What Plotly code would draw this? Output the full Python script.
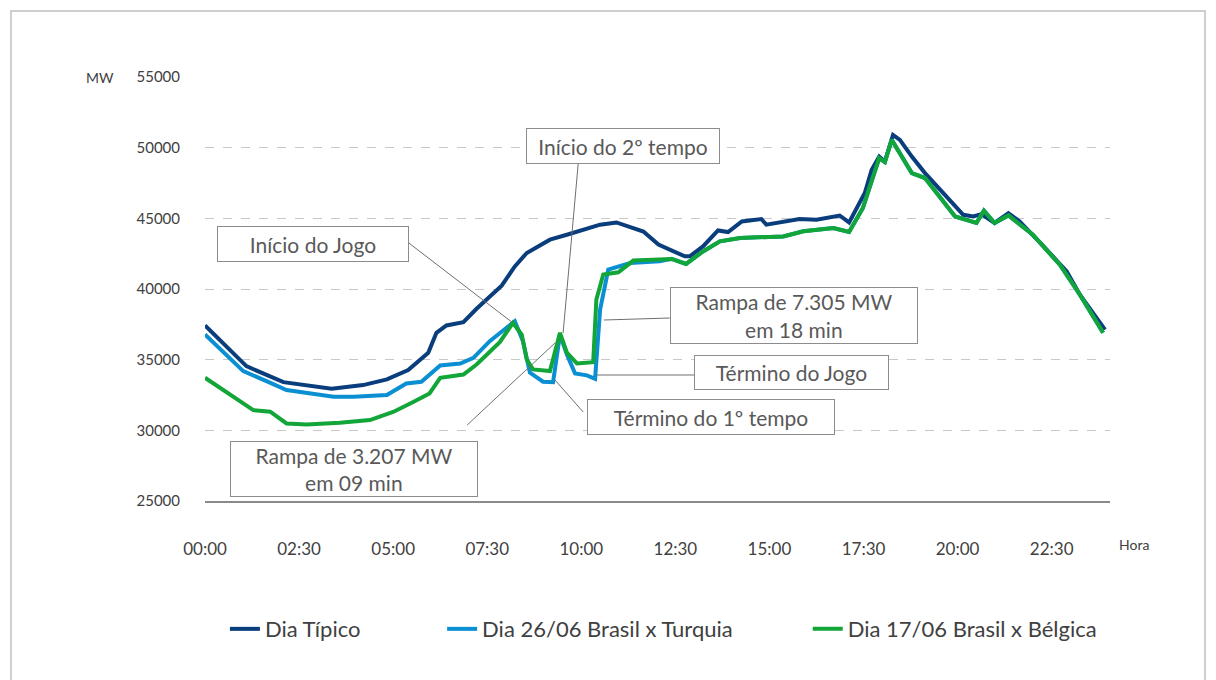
import plotly.graph_objects as go

# ---- data (time in minutes since 00:00, load in MW) ----
typ_t = [0, 66, 125, 202, 252, 290, 324, 356, 369, 385, 412, 433, 473, 494, 513, 550, 577, 630, 656, 699,
         723, 765, 773, 794, 818, 834, 856, 887, 895, 948, 975, 1012, 1027, 1044, 1052, 1063, 1075, 1084,
         1097, 1108, 1127, 1148, 1188, 1209, 1225, 1238, 1259, 1281, 1299, 1320, 1342, 1374, 1395, 1435]
typ_mw = [37420, 34540, 33410, 32950, 33200, 33600, 34260, 35490, 36900, 37420, 37650, 38600, 40240, 41600,
          42550, 43490, 43840, 44550, 44710, 44070, 43140, 42310, 42310, 43015, 44145, 44030, 44780, 44950,
          44550, 44950, 44900, 45200, 44710, 46190, 46790, 48430, 49370, 49020, 50900, 50550, 49370, 48200,
          46310, 45250, 45130, 45300, 44670, 45370, 44780, 43840, 42780, 41250, 39600, 37130]

tur_t = [0, 61, 98, 130, 205, 237, 290, 321, 345, 375, 407, 428, 454, 494, 507, 518, 539, 555, 566, 577,
         590, 609, 622, 630, 643, 678, 725, 744, 767, 794, 821, 853, 922, 954, 1002, 1027, 1049, 1063,
         1075, 1084, 1095, 1127, 1148, 1196, 1230, 1242, 1259, 1281, 1320, 1363, 1395, 1432]
tur_mw = [36780, 34190, 33480, 32850, 32380, 32380, 32500, 33320, 33440, 34590, 34730, 35130, 36310, 37720,
          36310, 34080, 33440, 33410, 36780, 35370, 34030, 33890, 33650, 38540, 41370, 41840, 41970, 42130,
          41770, 42660, 43370, 43610, 43720, 44080, 44315, 44030, 45730, 47610, 49260, 48980, 50550, 48200,
          47850, 45130, 44670, 45540, 44670, 45200, 43840, 41720, 39600, 36900]

bel_t = [0, 35, 61, 77, 104, 130, 162, 215, 263, 300, 332, 358, 375, 412, 433, 470, 491, 505, 513, 523,
         550, 566, 577, 593, 619, 624, 635, 659, 683, 744, 767, 794, 821, 853, 922, 954, 1002, 1027, 1049,
         1063, 1075, 1084, 1095, 1127, 1148, 1196, 1230, 1242, 1259, 1281, 1320, 1363, 1395, 1432]
bel_mw = [33720, 32660, 31840, 31430, 31320, 30490, 30420, 30540, 30730, 31300, 32000, 32610, 33720, 33950,
          34660, 36240, 37600, 36780, 35010, 34310, 34190, 36900, 35490, 34730, 34820, 39250, 41020, 41180,
          42010, 42130, 41770, 42660, 43370, 43610, 43720, 44080, 44315, 44030, 45730, 47610, 49260, 48980,
          50550, 48200, 47850, 45130, 44670, 45540, 44670, 45200, 43840, 41720, 39600, 36900]

series_names = ["Dia Típico", "Dia 26/06 Brasil x Turquia", "Dia 17/06 Brasil x Bélgica"]
series_colors = ["#0a3d7c", "#0a8fd2", "#12a538"]

tick_vals = [0, 150, 300, 450, 600, 750, 900, 1050, 1200, 1350]
tick_text = ["00:00", "02:30", "05:00", "07:30", "10:00", "12:30", "15:00", "17:30", "20:00", "22:30"]
y_ticks = [25000, 30000, 35000, 40000, 45000, 50000, 55000]

# annotation boxes: text, centre (min, MW), size px, leader line (box end -> curve point)
notes = [
    ("Início do Jogo", 172, 43184, 192, 36, (325, 43255), (489, 37665)),
    ("Início do 2º tempo", 666, 50118, 194, 36, (595, 48844), (571, 36886)),
    ("Rampa de 7.305 MW<br>em 18 min", 939, 38124, 248, 57, (741, 37948), (636, 37806)),
    ("Término do Jogo", 935, 34092, 195, 35, (780, 33915), (625, 33915)),
    ("Término do 1º tempo", 807, 30943, 248, 36, (603, 31297), (558, 33560)),
    ("Rampa de 3.207 MW<br>em 09 min", 238, 27263, 248, 56, (418, 30377), (558, 36179)),
]

FONT = "Lato, 'Open Sans', sans-serif"
fig = go.Figure()
for (t, v), name, col, lg in zip([(typ_t, typ_mw), (tur_t, tur_mw), (bel_t, bel_mw)],
                                 series_names, series_colors, ["legend", "legend2", "legend3"]):
    fig.add_trace(go.Scatter(x=t, y=v, mode="lines", name=name, legend=lg,
                             line=dict(color=col, width=4)))

for text, cx, cy, w, h, p0, p1 in notes:
    fig.add_shape(type="line", x0=p0[0], y0=p0[1], x1=p1[0], y1=p1[1], xref="x", yref="y",
                  line=dict(color="#6f6f6f", width=1))
for text, cx, cy, w, h, p0, p1 in notes:
    fig.add_annotation(x=cx, y=cy, xref="x", yref="y", text=text, showarrow=False,
                       width=w - 2, height=h - 2, borderpad=0, bordercolor="#8c8c8c", borderwidth=1,
                       bgcolor="white", font=dict(family=FONT, size=21, color="#595959"), align="center")

fig.add_annotation(x=0, y=1.0, xref="paper", yref="paper", text="MW", showarrow=False,
                   xshift=-105, yanchor="middle", xanchor="center",
                   font=dict(family=FONT, size=14, color="#404040"))
fig.add_annotation(x=1, y=0, xref="paper", yref="paper", text="Hora", showarrow=False,
                   xshift=24, yshift=-43, xanchor="center", yanchor="middle",
                   font=dict(family=FONT, size=14, color="#404040"))

# outer frame
fig.add_shape(type="rect", xref="paper", yref="paper", x0=-0.2144, x1=1.105, y0=-0.46, y1=1.1557,
              line=dict(color="#cfcfcf", width=2), fillcolor="rgba(0,0,0,0)", layer="below")

leg_common = dict(orientation="h", yanchor="middle", xanchor="left", y=-0.302,
                  font=dict(family=FONT, size=22, color="#404040"), bgcolor="rgba(0,0,0,0)")
fig.update_layout(
    width=1216, height=680,
    margin=dict(l=197, r=114, t=69, b=187),
    paper_bgcolor="white", plot_bgcolor="white",
    font=dict(family=FONT, color="#404040"),
    showlegend=True,
    legend=dict(x=0.022, **leg_common),
    legend2=dict(x=0.262, **leg_common),
    legend3=dict(x=0.666, **leg_common),
    xaxis=dict(range=[0, 1443], tickvals=tick_vals, ticktext=tick_text, showgrid=False,
               zeroline=False, showline=True, linecolor="#8a8a8a", linewidth=1.5, ticks="",
               ticklabelstandoff=32, tickfont=dict(family=FONT, size=17, color="#404040")),
    yaxis=dict(range=[25000, 55000], tickvals=y_ticks, tickformat="d", showgrid=True,
               gridcolor="#c8c8c8", griddash="dash", gridwidth=1, zeroline=False, showline=False,
               ticks="", ticklabelstandoff=24, tickfont=dict(family=FONT, size=15, color="#404040")),
)
fig.write_html("out.html")
